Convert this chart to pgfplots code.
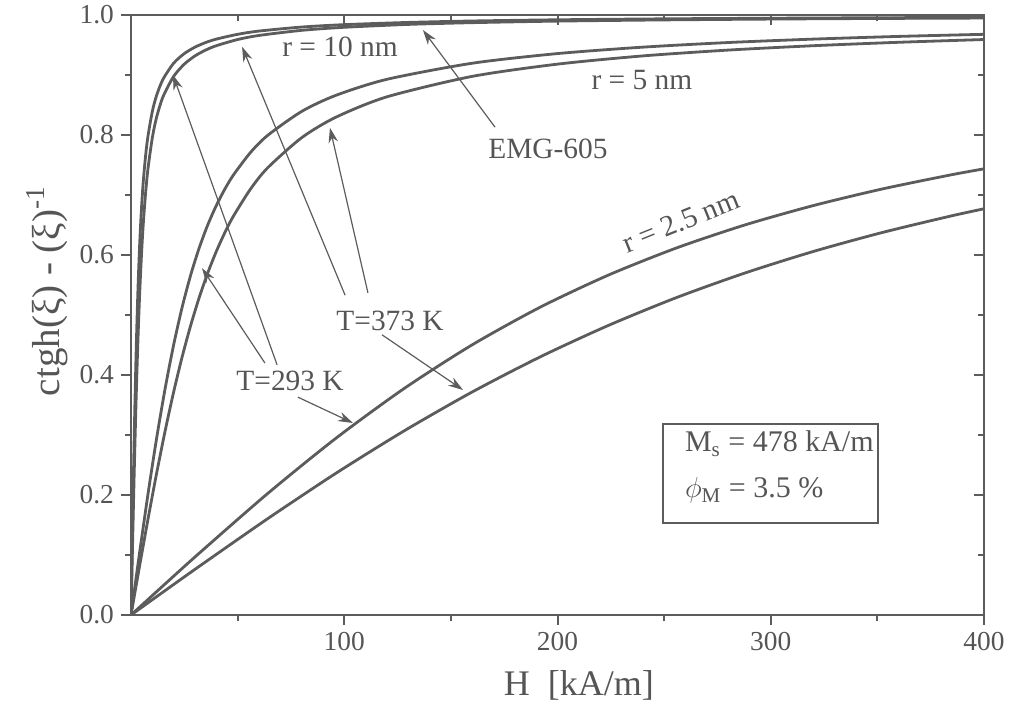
\documentclass[border=0pt]{standalone}
\usepackage{fontspec}
\setmainfont{Liberation Serif}
\usepackage{pgfplots}
\pgfplotsset{compat=1.18}
\usetikzlibrary{arrows.meta}
\definecolor{cg}{RGB}{92,92,92}
\definecolor{tg}{RGB}{85,85,85}
\newcommand{\af}{\fontsize{14.7}{17}\selectfont}
\begin{document}
\begin{tikzpicture}
\pgfplotsset{
  common/.style={
    scale only axis=true, width=426.5pt, height=300pt,
    xmin=0, xmax=400, ymin=0, ymax=1,
    axis line style={cg, line width=1.2pt},
    every tick/.style={cg, line width=1pt},
    major tick length=5pt, minor tick length=3.2pt,
    xtick={100,200,300,400}, minor xtick={50,150,250,350},
    ytick={0,0.2,0.4,0.6,0.8,1.0}, minor ytick={0.1,0.3,0.5,0.7,0.9},
  },
  curve/.style={cg, line width=1.4pt, smooth, tension=0.45},
}
\begin{axis}[common,
    xtick pos=bottom, ytick pos=left, tick align=outside,
    /pgf/number format/assume math mode=true,
    tick label style={font=\fontsize{13.7}{16}\selectfont, text=tg},
    yticklabel style={/pgf/number format/.cd, fixed, fixed zerofill, precision=1},
    xlabel={H\ \ [kA/m]},
    xlabel style={font=\fontsize{18}{21}\selectfont, text=tg, at={(axis description cs:0.525,-0.117)}, anchor=center},
    ylabel={ctgh(ξ) - (ξ)\textsuperscript{-1}},
    ylabel style={font=\fontsize{19.5}{22}\selectfont, text=tg, at={(axis description cs:-0.0985,0.54)}, anchor=center},
  ]
% r = 10 nm, T = 293 K
\addplot[curve] coordinates {
(0,0) (0.5,0.1030) (1,0.2022) (1.5,0.2943) (2,0.3773) (2.5,0.4503) (3,0.5132) (3.5,0.5667)
(4,0.6120) (4.5,0.6502) (5,0.6824) (5.5,0.7098) (6,0.7332) (7,0.7707) (8,0.7991) (10,0.8392)
(12,0.8660) (15,0.8928) (20,0.9196) (25,0.9357) (30,0.9464) (35,0.9541) (40,0.9598) (50,0.9678)
(60,0.9732) (80,0.9799) (100,0.9839) (130,0.9876) (160,0.9900) (200,0.9920) (250,0.9936)
(300,0.9946) (350,0.9954) (400,0.9960)};
% r = 10 nm, T = 373 K
\addplot[curve] coordinates {
(0,0) (0.5,0.0811) (1,0.1603) (1.5,0.2360) (2,0.3067) (2.5,0.3717) (3,0.4304) (3.5,0.4828)
(4,0.5293) (4.5,0.5701) (5,0.6059) (5.5,0.6372) (6,0.6646) (7,0.7097) (8,0.7450) (10,0.7954)
(12,0.8295) (15,0.8636) (20,0.8977) (25,0.9181) (30,0.9318) (35,0.9415) (40,0.9488) (50,0.9591)
(60,0.9659) (80,0.9744) (100,0.9795) (130,0.9843) (160,0.9872) (200,0.9898) (250,0.9918)
(300,0.9932) (350,0.9942) (400,0.9949)};
% r = 5 nm, T = 293 K
\addplot[curve] coordinates {
(0,0) (4,0.1030) (8,0.2022) (12,0.2943) (16,0.3773) (20,0.4503) (24,0.5132) (28,0.5667)
(32,0.6120) (36,0.6502) (40,0.6824) (44,0.7098) (48,0.7332) (56,0.7707) (64,0.7991) (80,0.8392)
(96,0.8660) (120,0.8928) (160,0.9196) (200,0.9357) (240,0.9464) (280,0.9541) (320,0.9598)
(360,0.9643) (400,0.9678)};
% r = 5 nm, T = 373 K
\addplot[curve] coordinates {
(0,0) (4,0.0811) (8,0.1603) (12,0.2360) (16,0.3067) (20,0.3717) (24,0.4304) (28,0.4828)
(32,0.5293) (36,0.5701) (40,0.6059) (44,0.6372) (48,0.6646) (56,0.7097) (64,0.7450) (80,0.7954)
(96,0.8295) (120,0.8636) (160,0.8977) (200,0.9181) (240,0.9318) (280,0.9415) (320,0.9488)
(360,0.9545) (400,0.9591)};
% r = 2.5 nm, T = 293 K
\addplot[curve] coordinates {
(0,0) (16,0.0518) (32,0.1030) (64,0.2022) (96,0.2943) (128,0.3773) (160,0.4503) (192,0.5132)
(224,0.5667) (256,0.6120) (288,0.6502) (320,0.6824) (352,0.7098) (384,0.7332) (400,0.7436)};
% r = 2.5 nm, T = 373 K
\addplot[curve] coordinates {
(0,0) (16,0.0407) (32,0.0811) (64,0.1603) (96,0.2360) (128,0.3067) (160,0.3717) (192,0.4304)
(224,0.4828) (256,0.5293) (288,0.5701) (320,0.6059) (352,0.6372) (384,0.6646) (400,0.6770)};

% annotations
\node[text=tg, font=\af] at (axis cs:98,0.947) {r = 10 nm};
\node[text=tg, font=\af] at (axis cs:239.6,0.892) {r = 5 nm};
\node[text=tg, font=\af] at (axis cs:195.5,0.777) {EMG-605};
\node[text=tg, font=\af, rotate=22, inner sep=0pt] at (axis cs:258,0.656) {r = 2.5 nm};
\node[text=tg, font=\af] at (axis cs:121.5,0.49) {T=373 K};
\node[text=tg, font=\af] at (axis cs:74.6,0.39) {T=293 K};
\begin{scope}[cg, line width=0.6pt, -{Stealth[length=7.5pt,width=4.8pt]}]
\draw (axis cs:68.5,0.417) -- (axis cs:19.7,0.900);
\draw (axis cs:62.8,0.420) -- (axis cs:33.3,0.578);
\draw (axis cs:78.3,0.363) -- (axis cs:104.1,0.320);
\draw (axis cs:100.4,0.533) -- (axis cs:52.1,0.947);
\draw (axis cs:111.1,0.537) -- (axis cs:93.3,0.812);
\draw (axis cs:117.7,0.467) -- (axis cs:155.7,0.375);
\draw (axis cs:170.7,0.813) -- (axis cs:136.9,0.975);
\end{scope}
\draw[cg, line width=0.7pt] (axis cs:249.5,0.153) rectangle (axis cs:350.3,0.318);
\node[text=tg, font=\fontsize{15}{18}\selectfont, anchor=base west] at (axis cs:256.5,0.272) {M\textsubscript{s} = 478 kA/m};
\node[text=tg, font=\fontsize{15}{18}\selectfont, anchor=base west] at (axis cs:256.5,0.195) {$\phi$\textsubscript{M} = 3.5 \%};
\end{axis}
\begin{axis}[common,
    xtick pos=top, ytick pos=right, tick align=inside,
    xticklabels={}, yticklabels={},
  ]
\end{axis}
\pgfresetboundingbox
\path ([shift={(-65.5pt,-45pt)}]current axis.south west) rectangle ([shift={(16.5pt,7.5pt)}]current axis.north east);
\end{tikzpicture}
\end{document}
